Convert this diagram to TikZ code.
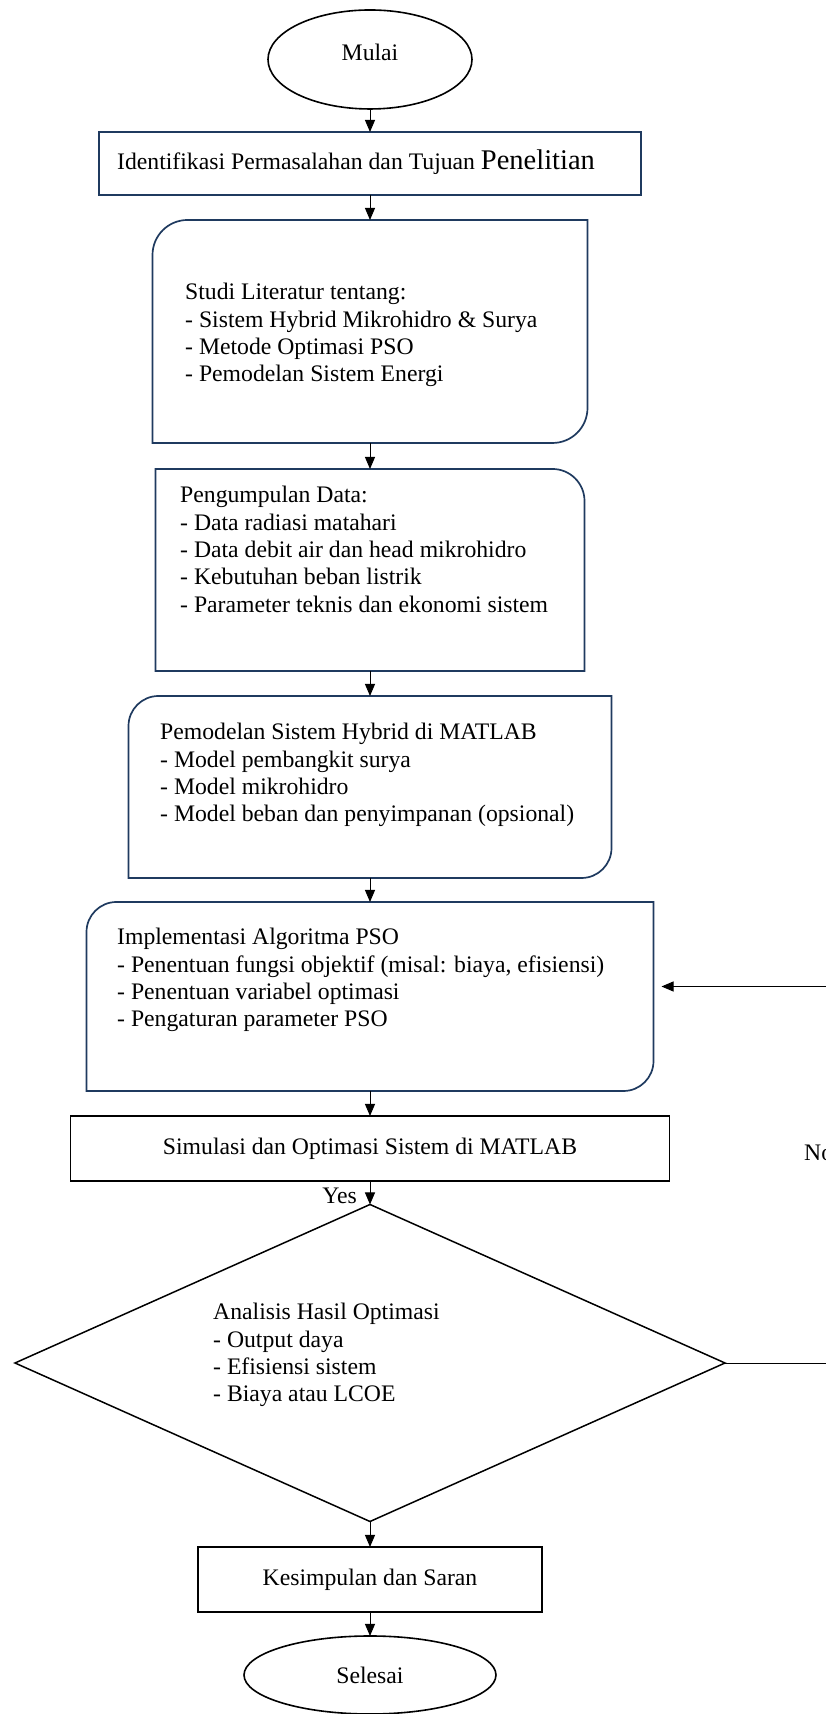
\documentclass[tikz,border=0pt]{standalone}
\usepackage{fontspec}
\setmainfont[Ligatures=NoCommon]{Liberation Serif}
\usetikzlibrary{shapes.geometric,arrows.meta}
\definecolor{navy}{HTML}{1F3A5F}
\newcommand\tlbr[2]{\draw[navyline] (#1.south west) -- ([yshift=-#2]#1.north west) arc[start angle=180,end angle=90,radius=#2] -- (#1.north east) -- ([yshift=#2]#1.south east) arc[start angle=0,end angle=-90,radius=#2] -- cycle;}
\newcommand\trcorner[2]{\draw[navyline] (#1.south west) -- (#1.north west) -- ([xshift=-#2]#1.north east) arc[start angle=90,end angle=0,radius=#2] -- (#1.south east) -- cycle;}
\begin{document}
\begin{tikzpicture}[x=1pt,y=1pt,font=\fontsize{23.7}{27.4}\selectfont,
  navyline/.style={draw=navy,line width=1.7pt},
  frame/.style={inner sep=0pt,outer sep=0pt},
  blackbox/.style={draw,line width=1.7pt,inner sep=0pt,outer sep=0pt},
  term/.style={ellipse,draw,line width=1.6pt,inner sep=0pt,outer sep=0pt},
  txt/.style={anchor=north west,align=left,inner sep=0pt},
  flow/.style={-{Triangle[length=12pt,width=10pt]},line width=0.9pt}]
\useasboundingbox (0,0) rectangle (825,1714);
\node[term,minimum width=204pt,minimum height=99pt,text depth=14pt] (mulai) at (370,1654.5) {Mulai};
\node[frame,navyline,minimum width=542pt,minimum height=63pt] (ident) at (370,1550.5) {};
\node[anchor=base west,inner sep=0pt] (ident-t) at (117,1544) {Identifikasi Permasalahan dan Tujuan {\fontsize{28.5}{30}\selectfont Penelitian}};
\node[frame,minimum width=435pt,minimum height=223pt] (studi) at (370,1382.5) {};
\tlbr{studi}{35pt}
\node[txt] (studi-t) at (185,1431) {Studi Literatur tentang:\\- Sistem Hybrid Mikrohidro \& Surya\\- Metode Optimasi PSO\\- Pemodelan Sistem Energi};
\node[frame,minimum width=429pt,minimum height=202pt] (data) at (370,1144) {};
\trcorner{data}{32pt}
\node[txt] (data-t) at (180,1228) {Pengumpulan Data:\\- Data radiasi matahari\\- Data debit air dan head mikrohidro\\- Kebutuhan beban listrik\\- Parameter teknis dan ekonomi sistem};
\node[frame,minimum width=483pt,minimum height=182pt] (model) at (370,927) {};
\tlbr{model}{30pt}
\node[txt] (model-t) at (160,991) {Pemodelan Sistem Hybrid di MATLAB\\- Model pembangkit surya\\- Model mikrohidro\\- Model beban dan penyimpanan (opsional)};
\node[frame,minimum width=567pt,minimum height=189pt] (pso) at (370,717.5) {};
\tlbr{pso}{30pt}
\node[txt] (pso-t) at (117,786) {Implementasi Algoritma PSO\\- Penentuan fungsi objektif (misal: biaya, efisiensi)\\- Penentuan variabel optimasi\\- Pengaturan parameter PSO};
\node[blackbox,minimum width=599pt,minimum height=65pt] (simul) at (370,565.5) {Simulasi dan Optimasi Sistem di MATLAB};
\node[diamond,draw,line width=1.5pt,inner sep=0pt,outer sep=0pt,minimum width=710pt,minimum height=317pt] (hasil) at (370,351) {};
\node[txt] (hasil-t) at (213,411) {Analisis Hasil Optimasi\\- Output daya\\- Efisiensi sistem\\- Biaya atau LCOE};
\node[blackbox,minimum width=344pt,minimum height=65pt] (simpul) at (370,134.5) {Kesimpulan dan Saran};
\node[term,minimum width=252pt,minimum height=78pt] (selesai) at (370,39) {Selesai};
\node[anchor=east,inner sep=0pt] (yes) at (357,518) {Yes};
\node[anchor=west,inner sep=0pt] (no) at (804,561) {No};
\coordinate (balik) at (850,351);
\draw[flow] (mulai) -- (ident);
\draw[flow] (ident) -- (studi);
\draw[flow] (studi) -- (data);
\draw[flow] (data) -- (model);
\draw[flow] (model) -- (pso);
\draw[flow] (pso) -- (simul);
\draw[flow] (simul) -- (hasil);
\draw[flow] (hasil) -- (simpul);
\draw[flow] (simpul) -- (selesai);
\draw[flow,shorten >=8pt] (hasil.east) -- (balik) |- ([yshift=10pt]pso.east);
\end{tikzpicture}
\end{document}
